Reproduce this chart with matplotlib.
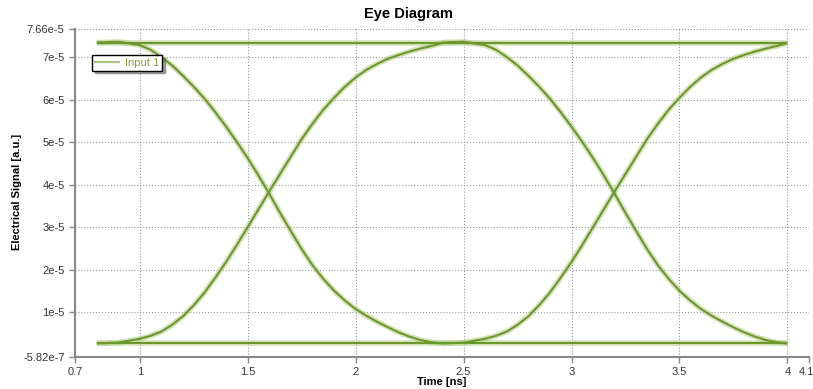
import numpy as np
import matplotlib.pyplot as plt
import matplotlib.transforms as mtransforms
from matplotlib.lines import Line2D

plt.rcParams['font.family'] = ['Liberation Sans', 'DejaVu Sans']

# one bit slot (ns) and the values (units of 1e-5)
t_fall = [0.8, 0.9, 1.0, 1.05, 1.1, 1.15, 1.2, 1.25, 1.3, 1.35, 1.4, 1.45, 1.5, 1.55, 1.6,
          1.65, 1.7, 1.75, 1.8, 1.85, 1.9, 1.95, 2.0, 2.05, 2.1, 2.15, 2.2, 2.25, 2.3, 2.35, 2.4]
v_fall = [7.34, 7.36, 7.28, 7.17, 7.0, 6.8, 6.56, 6.3, 6.02, 5.7, 5.36, 5.0, 4.62, 4.21, 3.78,
          3.33, 2.9, 2.48, 2.1, 1.78, 1.5, 1.27, 1.07, 0.91, 0.77, 0.64, 0.52, 0.42, 0.34, 0.29, 0.26]

t_rise = [0.8, 0.9, 1.0, 1.05, 1.1, 1.15, 1.2, 1.25, 1.3, 1.35, 1.4, 1.45, 1.5, 1.55, 1.6,
          1.65, 1.7, 1.75, 1.8, 1.85, 1.9, 1.95, 2.0, 2.05, 2.1, 2.15, 2.2, 2.25, 2.3, 2.35, 2.4]
v_rise = [0.26, 0.28, 0.37, 0.44, 0.54, 0.7, 0.9, 1.16, 1.46, 1.81, 2.18, 2.58, 3.0, 3.42, 3.84,
          4.25, 4.66, 5.07, 5.43, 5.76, 6.04, 6.3, 6.52, 6.7, 6.84, 6.96, 7.05, 7.13, 7.2, 7.26, 7.33]

t_level = [0.8, 4.0]
v_high = [7.34, 7.34]
v_low = [0.26, 0.26]

bit_offsets = [0.0, 1.6]   # the two bit slots shown

xticks = [0.7, 1, 1.5, 2, 2.5, 3, 3.5, 4, 4.1]
xticklabels = ['0.7', '1', '1.5', '2', '2.5', '3', '3.5', '4', '4.1']
yticks = [-5.82e-7, 1e-5, 2e-5, 3e-5, 4e-5, 5e-5, 6e-5, 7e-5, 7.66e-5]
yticklabels = ['-5.82e-7', '1e-5', '2e-5', '3e-5', '4e-5', '5e-5', '6e-5', '7e-5', '7.66e-5']

fig = plt.figure(figsize=(8.13, 3.89), dpi=100)
ax = fig.add_axes([0.0923, 0.0823, 0.9028, 0.8432])

halo = '#b3cc88'
main = '#6c982b'


def trace(t, v):
    t = np.asarray(t)
    v = np.asarray(v) * 1e-5
    ax.plot(t, v, color=halo, lw=4.0, alpha=0.55, solid_capstyle='butt', zorder=2)
    ax.plot(t, v, color=main, lw=1.5, solid_capstyle='butt', zorder=3)


trace(t_level, v_high)
trace(t_level, v_low)
for off in bit_offsets:
    trace(np.asarray(t_fall) + off, v_fall)
    trace(np.asarray(t_rise) + off, v_rise)

ax.set_xlim(0.7, 4.1)
ax.set_ylim(-5.82e-7, 7.66e-5)
ax.set_xticks(xticks)
ax.set_xticklabels(xticklabels)
ax.set_yticks(yticks)
ax.set_yticklabels(yticklabels)
ax.tick_params(labelsize=8, labelcolor='#333333', color='#888888', length=4, width=1)
ax.grid(True, linestyle=':', color='#999999', lw=0.8)
for s in ['top', 'right']:
    ax.spines[s].set_visible(False)
for s in ['left', 'bottom']:
    ax.spines[s].set_color('#888888')
    ax.spines[s].set_linewidth(1.5)

# keep the last x label inside the figure
last = ax.get_xticklabels()[-1]
last.set_transform(last.get_transform() + mtransforms.ScaledTranslation(-3 / 100, 0, fig.dpi_scale_trans))

# legend
h = Line2D([], [], color='#a9c27f', lw=1.5)
leg = ax.legend([h], ['Input 1'], loc='upper left', bbox_to_anchor=(92 / 813, 1 - 55 / 389),
                bbox_transform=fig.transFigure, fancybox=False, shadow=True, framealpha=1,
                edgecolor='black', fontsize=8, borderpad=0.25, handlelength=2.2,
                handletextpad=0.5, borderaxespad=0)
for txt in leg.get_texts():
    txt.set_color('#8a9a3e')
leg.get_frame().set_linewidth(1.0)

fig.text(0.502, 0.964, 'Eye Diagram', ha='center', va='center', fontsize=10.5, fontweight='bold')
fig.text(0.543, 0.019, 'Time [ns]', ha='center', va='center', fontsize=8, fontweight='bold')
fig.text(0.021, 0.506, 'Electrical Signal [a.u.]', ha='center', va='center', fontsize=8,
         fontweight='bold', rotation=90)

plt.savefig('out.png', dpi=100)
